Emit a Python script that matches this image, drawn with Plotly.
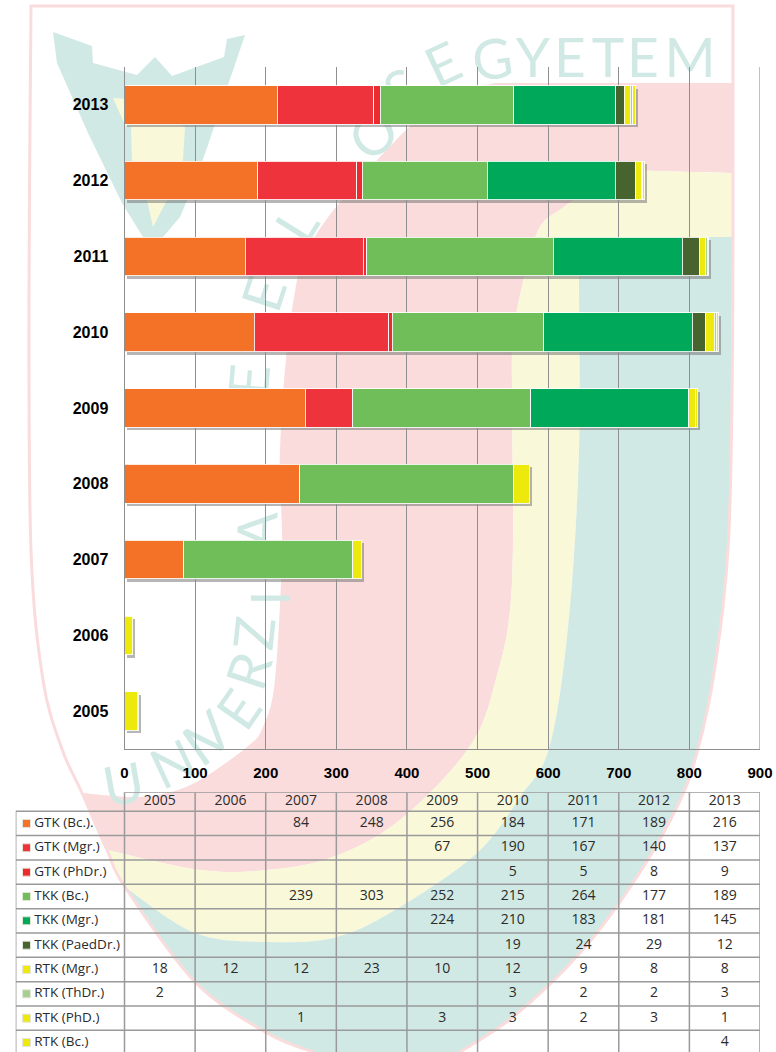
import plotly.graph_objects as go

W, H = 776, 1052
years = ["2005", "2006", "2007", "2008", "2009", "2010", "2011", "2012", "2013"]
series_names = ["GTK (Bc.).", "GTK (Mgr.)", "GTK (PhDr.)", "TKK (Bc.)", "TKK (Mgr.)", "TKK (PaedDr.)",
                "RTK (Mgr.)", "RTK (ThDr.)", "RTK (PhD.)", "RTK (Bc.)"]
colors = ["#F47128", "#EF333C", "#ED2A2E", "#70BE5A", "#00A85A", "#47632E",
          "#EEE90C", "#A6CF92", "#EEE90C", "#EEE90C"]
gtk_bc = [None, None, 84, 248, 256, 184, 171, 189, 216]
gtk_mgr = [None, None, None, None, 67, 190, 167, 140, 137]
gtk_phdr = [None, None, None, None, None, 5, 5, 8, 9]
tkk_bc = [None, None, 239, 303, 252, 215, 264, 177, 189]
tkk_mgr = [None, None, None, None, 224, 210, 183, 181, 145]
tkk_paed = [None, None, None, None, None, 19, 24, 29, 12]
rtk_mgr = [18, 12, 12, 23, 10, 12, 9, 8, 8]
rtk_thdr = [2, None, None, None, None, 3, 2, 2, 3]
rtk_phd = [None, None, 1, None, 3, 3, 2, 3, 1]
rtk_bc = [None, None, None, None, None, None, None, None, 4]
series = [gtk_bc, gtk_mgr, gtk_phdr, tkk_bc, tkk_mgr, tkk_paed, rtk_mgr, rtk_thdr, rtk_phd, rtk_bc]
axis_ticks = [0, 100, 200, 300, 400, 500, 600, 700, 800, 900]

PINK, YELLOW, TEAL = "#FBDCDD", "#F9F9DA", "#D1E9E4"
TXT = "#2b2b2b"
GRID = "#8f8f8f"


def fx(px):
    return px / W


def fy(py):
    return 1 - py / H


def P(pts):
    return [(fx(a), fy(b)) for a, b in pts]


def smooth(pts):
    """Catmull-Rom through points, as SVG curve commands (start point excluded)."""
    out = ""
    n = len(pts)
    for i in range(n - 1):
        p0 = pts[max(i - 1, 0)]
        p1 = pts[i]
        p2 = pts[i + 1]
        p3 = pts[min(i + 2, n - 1)]
        c1 = (p1[0] + (p2[0] - p0[0]) / 6, p1[1] + (p2[1] - p0[1]) / 6)
        c2 = (p2[0] - (p3[0] - p1[0]) / 6, p2[1] - (p3[1] - p1[1]) / 6)
        out += f" C {c1[0]:.5f},{c1[1]:.5f} {c2[0]:.5f},{c2[1]:.5f} {p2[0]:.5f},{p2[1]:.5f}"
    return out


def path(*pieces, close=True):
    """Pieces are lists of pixel points; each is joined by a line and drawn smooth."""
    s = ""
    for k, piece in enumerate(pieces):
        pts = P(piece)
        s += ("M " if k == 0 else " L ") + f"{pts[0][0]:.5f},{pts[0][1]:.5f}" + smooth(pts)
    return s + (" Z" if close else "")


def poly(pts):
    return "M " + " L ".join(f"{a:.5f},{b:.5f}" for a, b in P(pts)) + " Z"


edge_left = [(31, 7), (29, 300), (31, 550), (43, 680), (62, 749), (82, 793), (107, 850), (125, 887), (195, 982),
             (267, 1033), (313, 1052)]
edge_right = [(460, 1052), (513, 1017), (580, 953), (633, 883), (677, 807), (698, 749), (715, 667), (728, 550),
              (732, 400), (733, 237)]
pink_inner = [(495, 83), (455, 95), (406, 130), (317, 233), (292, 310), (280, 450), (282, 550), (275, 680), (263, 727),
              (247, 747), (200, 780), (167, 793), (133, 797), (82, 793)]
pink_yellow = [(107, 850), (200, 870), (267, 870), (333, 857), (400, 820), (468, 749), (495, 683), (512, 583),
               (512, 350), (517, 310), (537, 233), (564, 207), (619, 170)]
yellow_teal = [(125, 887), (195, 933), (267, 942), (337, 937), (400, 907), (477, 853), (520, 797), (550, 745),
               (569, 617), (579, 450), (579, 277), (579, 237)]

BG = dict(type="path", layer="below", xref="paper", yref="paper", line_width=0)
shapes = []
# watermark crest
shapes.append(dict(BG, fillcolor=TEAL, path=poly(
    [(53, 32), (92, 46), (93, 63), (137, 75), (155, 57), (172, 76), (224, 57), (227, 39), (245, 35),
     (228, 85), (212, 133), (197, 177), (180, 217), (163, 237), (143, 237), (122, 203), (88, 133), (57, 63)])))
shapes.append(dict(BG, fillcolor=YELLOW, path=poly(
    [(113, 98), (125, 125), (131, 127), (132, 160), (147, 200), (153, 227), (167, 200), (183, 160),
     (185, 127), (140, 100)])))
# shield bands
shapes.append(dict(BG, fillcolor=PINK,
                   path=path(pink_inner, [(82, 793), (107, 850)], pink_yellow, [(619, 170), (733, 173)],
                             [(733, 173), (733, 83)])))
shapes.append(dict(BG, fillcolor=YELLOW,
                   path=path(pink_yellow, [(619, 170), (733, 173)], [(733, 173), (733, 237)], yellow_teal[::-1],
                             [(125, 887), (107, 850)])))
shapes.append(dict(BG, fillcolor=TEAL,
                   path=path(yellow_teal, [(579, 237), (733, 237)], edge_right[::-1], [(460, 1052), (313, 1052)],
                             edge_left[-4:][::-1])))
shapes.append(dict(type="path", layer="below", xref="paper", yref="paper", line=dict(color=PINK, width=3),
                   path=path(edge_right, [(733, 237), (733, 6)], [(733, 6), (31, 6)], edge_left, close=False)))

# watermark lettering, as real text in a layer below the bars
letters = [("U", 123, 782, -10), ("N", 172, 762, -25), ("I", 195, 746, -35), ("V", 208, 733, -42),
           ("E", 237, 708, -55), ("R", 247, 670, -72), ("Z", 252, 633, -84), ("I", 268, 598, -90),
           ("T", 256, 563, -88), ("A", 255, 530, -88), ("E", 247, 380, -85), ("E", 262, 293, -72),
           ("L", 295, 223, -58), ("O", 372, 133, -38), ("S", 400, 88, -28), ("E", 442, 62, -25),
           ("G", 492, 57, -8), ("Y", 533, 55, 0), ("E", 570, 55, 0), ("T", 608, 55, 0), ("E", 643, 55, 0),
           ("M", 690, 55, 0)]
for ch, cx, cy, ang in letters:
    shapes.append(dict(type="rect", layer="below", xref="paper", yref="paper", x0=fx(cx - 20), x1=fx(cx + 20),
                       y0=fy(cy + 20), y1=fy(cy - 20), line_width=0, fillcolor="rgba(0,0,0,0)",
                       label=dict(text=ch, textangle=ang, textposition="middle center",
                                  font=dict(family="Lato", size=55, color=TEAL))))

# table rules, on the table's axes
LBL_LEFT = -1.541
ROW_TOP, ROW_BOT = -0.78, 9.89
T = "#9a9a9a"
for r in range(0, 11):
    shapes.append(dict(type="line", xref="x3", yref="y3", layer="below", x0=LBL_LEFT, x1=9, y0=r, y1=r,
                       line=dict(color=T, width=1.5)))
shapes.append(dict(type="line", xref="x3", yref="y3", layer="below", x0=0, x1=9, y0=ROW_TOP, y1=ROW_TOP,
                   line=dict(color=T, width=1.5)))
for c in range(0, 10):
    shapes.append(dict(type="line", xref="x3", yref="y3", layer="below", x0=c, x1=c, y0=ROW_TOP, y1=10,
                       line=dict(color=T, width=1.5)))
shapes.append(dict(type="line", xref="x3", yref="y3", layer="below", x0=LBL_LEFT, x1=LBL_LEFT, y0=0, y1=10,
                   line=dict(color=T, width=1.5)))
# closing rule of the plot area at the axis maximum
shapes.append(dict(type="line", xref="x2", yref="y2 domain", layer="below", x0=axis_ticks[-1], x1=axis_ticks[-1],
                   y0=0, y1=1, line=dict(color="#ababab", width=1.5)))

fig = go.Figure()

# soft shadow behind the bars, offset by two pixels through its own axes
totals = [sum(v[i] or 0 for v in series) for i in range(len(years))]
fig.add_trace(go.Bar(y=years, x=totals, orientation="h", xaxis="x", yaxis="y", hoverinfo="skip", showlegend=False,
                     marker=dict(color="rgba(110,110,110,0.5)", line_width=0)))
for name, vals, col in zip(series_names, series, colors):
    fig.add_trace(go.Bar(y=years, x=vals, name=name, orientation="h", xaxis="x2", yaxis="y2", showlegend=False,
                         marker=dict(color=col, line=dict(color="rgba(255,255,255,0.85)", width=1))))

# table contents
xs, ys, txt = [], [], []
for c, yr in enumerate(years):
    xs.append(c + 0.5); ys.append(-0.39); txt.append(yr)
    for r, vals in enumerate(series):
        if vals[c] is not None:
            xs.append(c + 0.5); ys.append(r + 0.5); txt.append(str(vals[c]))
fig.add_trace(go.Scatter(x=xs, y=ys, text=txt, mode="text", xaxis="x3", yaxis="y3", showlegend=False,
                         textfont=dict(family="Open Sans", size=14, color=TXT), hoverinfo="skip"))
rows = [r + 0.5 for r in range(len(series_names))]
fig.add_trace(go.Scatter(x=[LBL_LEFT + 10.8 / 70.6] * len(rows), y=rows, mode="markers", xaxis="x3", yaxis="y3",
                         showlegend=False, hoverinfo="skip",
                         marker=dict(symbol="square", size=8, color=colors, line=dict(color="#e4e4d8", width=1))))
fig.add_trace(go.Scatter(x=[LBL_LEFT + 18.5 / 70.6] * len(rows), y=rows, text=series_names, mode="text",
                         textposition="middle right", xaxis="x3", yaxis="y3", showlegend=False, hoverinfo="skip",
                         textfont=dict(family="Open Sans", size=13.5, color=TXT)))

ann = [dict(text=c, x=fx(px), y=1, xref="paper", yref="paper", yanchor="bottom", yshift=-3, showarrow=False,
            font=dict(family="Liberation Sans", size=26, color="#000000", weight="bold"))
       for c, px in (("p", 269), ("(", 505), (")", 646))]

AX_L, AX_R, AX_T, AX_B = 124.5, 760, 67, 749
fig.update_layout(
    width=W, height=H, autosize=False, margin=dict(l=0, r=0, t=0, b=0, autoexpand=False),
    paper_bgcolor="white", plot_bgcolor="rgba(0,0,0,0)",
    barmode="stack", bargap=0.49, showlegend=False, shapes=shapes, annotations=ann,
    xaxis=dict(domain=[fx(AX_L + 2.5), fx(AX_R + 2.5)], range=[0, 900], visible=False, anchor="y", automargin=False),
    yaxis=dict(domain=[fy(AX_B + 3), fy(AX_T + 3)], type="category", categoryorder="array", categoryarray=years,
               visible=False, anchor="x", automargin=False),
    xaxis2=dict(domain=[fx(AX_L), fx(AX_R)], range=[0, 900], anchor="y2", tickvals=axis_ticks, showgrid=True,
                gridcolor=GRID, gridwidth=1, zeroline=False, showline=True, linecolor=GRID, linewidth=1,
                tickfont=dict(family="Liberation Sans", size=15, color="#000000", weight="bold"),
                ticks="", ticklabelstandoff=10, automargin=False),
    yaxis2=dict(domain=[fy(AX_B), fy(AX_T)], type="category", categoryorder="array", categoryarray=years,
                anchor="x2", showgrid=False, showline=True, linecolor=GRID, linewidth=1, zeroline=False, ticks="",
                ticklabelstandoff=12,
                tickfont=dict(family="Liberation Sans", size=16, color="#000000", weight="bold"), automargin=False),
    xaxis3=dict(domain=[fx(15.7), fx(AX_R)], range=[LBL_LEFT, 9], anchor="y3", visible=False, automargin=False),
    yaxis3=dict(domain=[0, fy(792.3)], range=[ROW_BOT, ROW_TOP], anchor="x3", visible=False, automargin=False),
)
fig.write_html("out.html", config={"displayModeBar": False}, post_script="document.body.style.margin='0';")
